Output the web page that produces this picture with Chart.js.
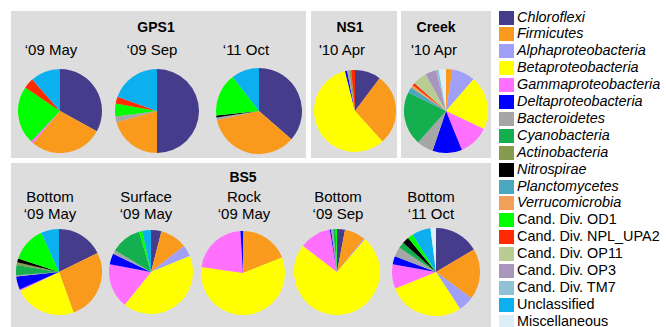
<!DOCTYPE html>
<html>
<head>
<meta charset="utf-8">
<script src="https://cdn.jsdelivr.net/npm/chart.js@4"></script>
<style>
  body { margin:0; width:666px; height:327px; background:#fff; position:relative; overflow:hidden;
    font-family:'Liberation Sans', Arial, sans-serif; color:#000; }
  .panel { position:absolute; background:#dddddd; }
  .lbl { position:absolute; width:120px; text-align:center; font-size:15px; line-height:17px; white-space:nowrap; }
  .ttl { position:absolute; width:120px; text-align:center; font-size:14px; font-weight:bold; line-height:16px; }
  canvas.pie { position:absolute; }
  .leg { position:absolute; left:499px; font-size:14.4px; line-height:17px; white-space:nowrap; }
  .leg i.sw { position:absolute; left:0; top:1px; width:15px; height:14px; }
  .leg span { position:absolute; left:18px; top:-1px; }
</style>
</head>
<body>
<script>
const categories = ['Chloroflexi','Firmicutes','Alphaproteobacteria','Betaproteobacteria','Gammaproteobacteria',
  'Deltaproteobacteria','Bacteroidetes','Cyanobacteria','Actinobacteria','Nitrospirae','Planctomycetes',
  'Verrucomicrobia','Cand. Div. OD1','Cand. Div. NPL_UPA2','Cand. Div. OP11','Cand. Div. OP3','Cand. Div. TM7',
  'Unclassified','Miscellaneous']
const italicCount = 12
const colors = ['#463C8C','#F99A1C','#A0A0F8','#FFFF00','#FF70FF','#0000FF','#A6A6A6','#14AF4E','#879B4E',
  '#000000','#4BA6BF','#F0A05A','#00FF00','#FF2A00','#B8CC94','#A896BF','#8FC2D4','#0DB0EE','#DDEEF8']

// percentages, one entry per category (same order as categories)
const gps1May09    = [33,28,0,0,1,0,0,0,0,0,0,0,22.5,4,0,0,0,11.5,0]
const gps1Sep09    = [50,20.7,0,0,0,0,2.2,0,0,0,0,0,5,2.6,0,0,0,19.5,0]
const gps1Oct11    = [36.4,35.2,0,0,0,0,1,0,0,0.7,0,0,16.2,0,0,0,0,10.5,0]
const ns1Apr10     = [10.2,27.9,0,57.5,0,0.8,0.8,0,0.8,0,0,0,0,1.5,0,0,0,0,0]
const creekApr10   = [0,2.5,8.9,20.8,11.8,11.4,6.4,20.8,0,0,2.2,1,0,1,5.5,4.3,1,0,2.8]
const bs5BottomMay09  = [17.8,26.9,0,23.5,0.5,5,0.5,3.8,1,1.5,0,0,13.2,0,0,0,0,6.8,0]
const bs5SurfaceMay09 = [4,10.3,4.4,41.9,17.1,4.2,1.5,11.7,0,0,0,0,1.3,0,0,0,0,3.3,0]
const bs5RockMay09    = [0,19,0,58.3,21.7,1,0,0,0,0,0,0,0,0,0,0,0,0,0]
const bs5BottomSep09  = [3,7.8,0.5,74.3,11.9,0.5,0.8,0.9,0,0,0,0,0.5,0,0,0,0,0,0]
const bs5BottomOct11  = [16.5,18.6,5.7,28.1,8.9,3,3.5,2.3,0,2.5,0,0,2,0,0,0,0,6.9,2]

const panels = [
  {x:11,y:11,w:295,h:147,title:'GPS1',tx:156,ty:27},
  {x:311,y:11,w:86,h:147,title:'NS1',tx:350,ty:27},
  {x:401,y:11,w:90,h:147,title:'Creek',tx:436,ty:27},
  {x:11,y:163,w:480,h:164,title:'BS5',tx:243,ty:177}
]

const pies = [
  {data:gps1May09, cx:60, cy:111, r:42, label:['‘09 May'], lx:51, ly:49},
  {data:gps1Sep09, cx:157, cy:111, r:42, label:['‘09 Sep'], lx:152, ly:49},
  {data:gps1Oct11, cx:259, cy:111, r:43, label:['‘11 Oct'], lx:246, ly:49},
  {data:ns1Apr10, cx:355, cy:111, r:41, label:["'10 Apr"], lx:342, ly:49},
  {data:creekApr10, cx:446, cy:111, r:42, label:["'10 Apr"], lx:434, ly:49},
  {data:bs5BottomMay09, cx:59, cy:272, r:43, label:['Bottom','‘09 May'], lx:50, ly:205},
  {data:bs5SurfaceMay09, cx:151, cy:272, r:42, label:['Surface','‘09 May'], lx:146, ly:205},
  {data:bs5RockMay09, cx:243, cy:273, r:42, label:['Rock','‘09 May'], lx:244, ly:205},
  {data:bs5BottomSep09, cx:337, cy:272, r:43, label:['Bottom','‘09 Sep'], lx:338, ly:205},
  {data:bs5BottomOct11, cx:436, cy:272, r:44, label:['Bottom','‘11 Oct'], lx:431, ly:205}
]

function add(tag, cls, css, html) {
  const el = document.createElement(tag)
  if (cls) el.className = cls
  Object.assign(el.style, css)
  if (html !== undefined) el.innerHTML = html
  document.body.appendChild(el)
  return el
}

panels.forEach(p => {
  add('div','panel',{left:p.x+'px',top:p.y+'px',width:p.w+'px',height:p.h+'px'})
  add('div','ttl',{left:(p.tx-60)+'px',top:(p.ty-8)+'px'},p.title)
})

pies.forEach(p => {
  const n = p.label.length
  add('div','lbl',{left:(p.lx-60)+'px',top:(p.ly-n*8.5)+'px'},p.label.join('<br>'))
  const cv = add('canvas','pie',{left:(p.cx-p.r)+'px',top:(p.cy-p.r)+'px'})
  cv.width = p.r*2; cv.height = p.r*2
  new Chart(cv,{
    type:'pie',
    data:{ labels:categories, datasets:[{ data:p.data, backgroundColor:colors, borderWidth:0, hoverOffset:0 }] },
    options:{ responsive:false, animation:false, layout:{padding:0},
      plugins:{ legend:{display:false}, tooltip:{enabled:false} } }
  })
})

// legend
categories.forEach((c,i) => {
  const it = add('div','leg',{top:(9.5+i*16.9)+'px'})
  it.innerHTML = `<i class="sw" style="background:${colors[i]}"></i><span style="font-style:${i<italicCount?'italic':'normal'}">${c}</span>`
})
</script>
</body>
</html>
